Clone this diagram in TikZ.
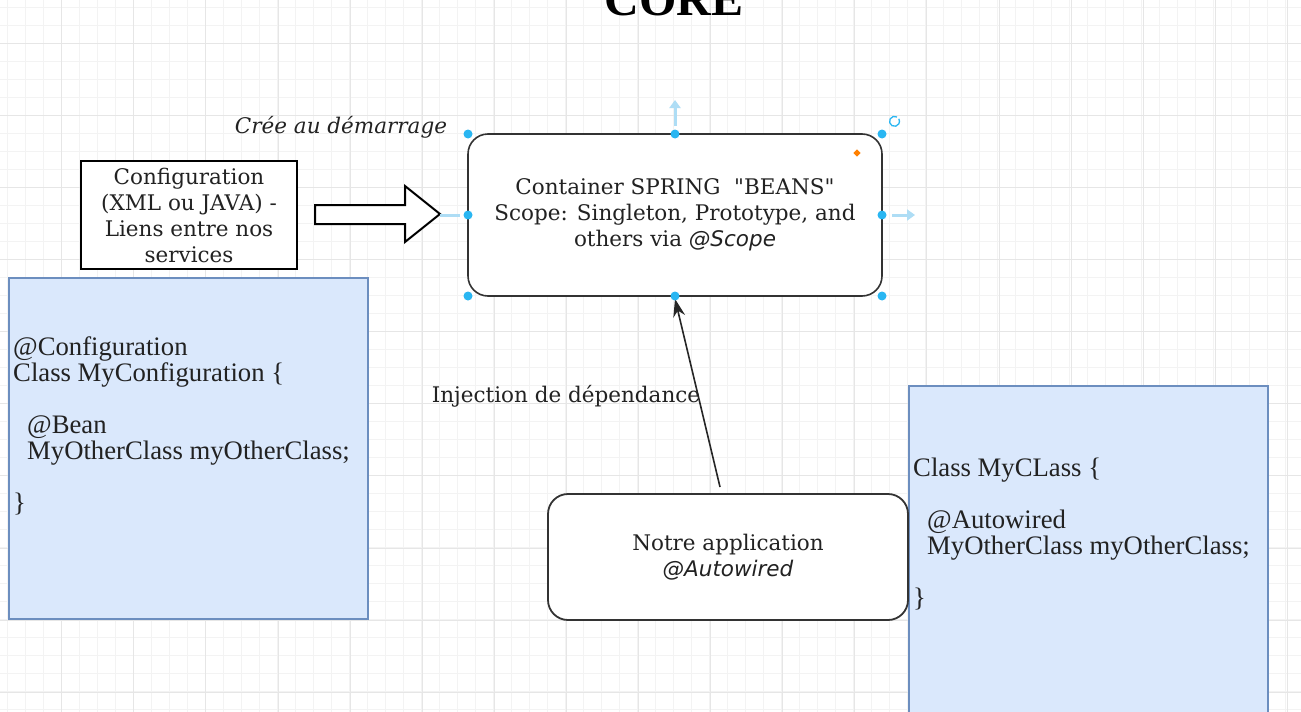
\documentclass[tikz,border=0pt]{standalone}
\usepackage{fontspec}
\setmainfont{DejaVu Serif}[Ligatures=ResetAll]
\newfontfamily\codefont{Liberation Serif}
\newfontfamily\dsans{DejaVu Sans}
\usetikzlibrary{arrows.meta}
\definecolor{txt}{HTML}{222222}
\definecolor{bluefill}{HTML}{DAE8FC}
\definecolor{blueline}{HTML}{6C8EBF}
\definecolor{handle}{HTML}{29B6F2}
\definecolor{hint}{HTML}{AEDDF5}
\definecolor{gridminor}{HTML}{F3F3F3}
\definecolor{gridmajor}{HTML}{E6E6E6}
\newcommand{\sq}{\XeTeXglyph\XeTeXcharglyph"22\relax}
\tikzset{
  lbl/.style={text=txt, inner sep=0pt, font=\fontsize{21.5}{26}\selectfont},
  code/.style={text=txt, inner sep=0pt, anchor=base west, font=\codefont\fontsize{26.7}{26}\selectfont},
  plainbox/.style={draw=black, line width=2pt, fill=white, text=txt, align=center, inner sep=0pt, font=\fontsize{21.5}{26}\selectfont},
  roundbox/.style={draw=black!80, line width=1.6pt, fill=white, rounded corners=20pt, text=txt, align=center, inner sep=0pt, font=\fontsize{21.5}{26}\selectfont},
  bluebox/.style={draw=blueline, line width=1.2pt, fill=bluefill},
  handledot/.style={circle, fill=handle, inner sep=0pt, minimum size=9pt},
}
\begin{document}
\begin{tikzpicture}[x=1pt,y=-1pt]
\useasboundingbox (0,0) rectangle (1301,712);
\clip (0,0) rectangle (1301,712);
\fill[white] (0,0) rectangle (1301,712);
% grid
\foreach \i in {0,...,72} {\draw[gridminor, line width=0.8pt] ({7.7+18*\i},0) -- ({7.7+18*\i},712);}
\foreach \i in {0,...,40} {\draw[gridminor, line width=0.8pt] (0,{7.3+18*\i}) -- (1301,{7.3+18*\i});}
\foreach \i in {0,...,18} {\draw[gridmajor, line width=1pt] ({61.7+72.1*\i},0) -- ({61.7+72.1*\i},712);}
\foreach \i in {0,...,10} {\draw[gridmajor, line width=1pt] (0,{43.3+72.1*\i}) -- (1301,{43.3+72.1*\i});}

% title
\node[anchor=base, inner sep=0pt, font=\codefont\bfseries\fontsize{48}{48}\selectfont] (title) at (674,15) {CORE};

% blue code boxes
\path[bluebox] (9,278) rectangle (368,619);
\node[code] (c1) at (13,355) {@Configuration};
\node[code] (c2) at (13,381) {Class MyConfiguration \{};
\node[code] (c3) at (27,433) {@Bean};
\node[code] (c4) at (27,459) {MyOtherClass myOtherClass;};
\node[code] (c5) at (13,511) {\}};

\path[bluebox] (909,386) rectangle (1268,730);
\node[code] (d1) at (913,476) {Class MyCLass \{};
\node[code] (d2) at (927,528) {@Autowired};
\node[code] (d3) at (927,554) {MyOtherClass myOtherClass;};
\node[code] (d4) at (913,606) {\}};

% configuration box
\node[plainbox, minimum width=216pt, minimum height=108pt] (config) at (189,215)
  {Configuration\\(XML ou JAVA) -\\Liens entre nos\\services};

% hollow block arrow
\draw[black, line width=2pt, fill=white, line join=miter]
  (315,205) -- (405,205) -- (405,186) -- (440,214) -- (405,242) -- (405,224) -- (315,224) -- cycle;

% label
\node[lbl, font=\itshape\fontsize{21.5}{26}\selectfont] (cree) at (341,127) {Crée au démarrage};

% container
\node[roundbox, minimum width=414pt, minimum height=162pt] (container) at (675,215)
  {Container SPRING\ \ \sq BEANS\sq\\Scope: Singleton, Prototype, and\\others via {\dsans\itshape @Scope}};

% application box
\node[roundbox, line width=1.8pt, minimum width=360pt, minimum height=126pt] (app) at (728,557)
  {Notre application\\{\dsans\itshape @Autowired}};

% injection arrow
\coordinate (injstart) at (720,487);
\draw[black!85, line width=1.6pt, -{Stealth[length=18pt, width=12pt]}] (injstart) -- ([yshift=-2pt]container.south);
\node[lbl] (inj) at (566,396) {Injection de dépendance};

% selection hints
\draw[hint, line width=3pt, -{Triangle[length=8pt, width=11pt]}] (675,126) -- (675,100);
\draw[hint, line width=3pt, -{Triangle[length=8pt, width=11pt]}] (892,215) -- (915,215);
\draw[hint, line width=3pt] (440,215) -- (460,215);
\foreach \p/\n in {(468,134)/h1,(675,134)/h2,(882,134)/h3,(468,215)/h4,(882,215)/h5,(468,296)/h6,(675,296)/h7,(882,296)/h8}
  {\node[handledot] (\n) at \p {};}
\draw[handle, line width=1.3pt] (897,117) arc (60:390:5pt);
\node[fill=orange, inner sep=0pt, minimum size=5pt, rotate=45] (rot) at (857,153) {};
\end{tikzpicture}
\end{document}
